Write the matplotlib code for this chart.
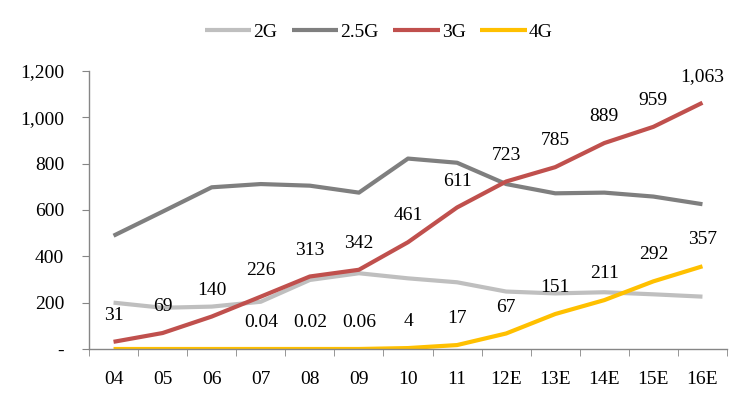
import matplotlib
matplotlib.use("Agg")
import matplotlib.pyplot as plt
import numpy as np

categories = ["04", "05", "06", "07", "08", "09", "10", "11", "12E", "13E", "14E", "15E", "16E"]
s_2g = [200, 178, 183, 204, 298, 327, 305, 288, 248, 240, 245, 236, 226]
s_25g = [489, 593, 698, 712, 705, 675, 822, 804, 712, 672, 675, 658, 625]
s_3g = [31, 69, 140, 226, 313, 342, 461, 611, 723, 785, 889, 959, 1063]
s_4g = [0, 0, 0, 0.04, 0.02, 0.06, 4, 17, 67, 151, 211, 292, 357]
labels_3g = ["31", "69", "140", "226", "313", "342", "461", "611", "723", "785", "889", "959", "1,063"]
labels_4g = ["", "", "", "0.04", "0.02", "0.06", "4", "17", "67", "151", "211", "292", "357"]
yticks = [0, 200, 400, 600, 800, 1000, 1200]
ytick_labels = ["-", "200", "400", "600", "800", "1,000", "1,200"]

plt.rcParams['font.family'] = ['Liberation Serif', 'DejaVu Serif']
FS = 14

fig = plt.figure(figsize=(7.5, 3.99), dpi=100)
ax = fig.add_axes([89/750, 1-349/399, (727-89)/750, (349-71)/399])

x = np.arange(len(categories))
lw = 3.0
ax.plot(x, s_2g, color="#BFBFBF", lw=lw, label="2G", solid_capstyle='butt')
ax.plot(x, s_25g, color="#7F7F7F", lw=lw, label="2.5G", solid_capstyle='butt')
ax.plot(x, s_3g, color="#C0504D", lw=lw, label="3G", solid_capstyle='butt')
ax.plot(x, s_4g, color="#FFC000", lw=lw, label="4G", solid_capstyle='butt')

for xi, v, t in zip(x, s_3g, labels_3g):
    if t:
        ax.annotate(t, (xi, v), xytext=(0, 19), textcoords='offset points',
                    ha='center', va='center', fontsize=FS)
for xi, v, t in zip(x, s_4g, labels_4g):
    if t:
        ax.annotate(t, (xi, v), xytext=(0, 19), textcoords='offset points',
                    ha='center', va='center', fontsize=FS)

ax.set_xlim(-0.5, len(categories) - 0.5)
ax.set_ylim(0, 1200)
ax.set_yticks(yticks)
ax.set_yticklabels(ytick_labels, fontsize=FS)
ax.set_xticks(x)
ax.set_xticklabels(categories, fontsize=FS)
ax.set_xticks(np.arange(-0.5, len(categories), 1), minor=True)
ax.tick_params(axis='x', which='major', length=0, pad=16)
ax.tick_params(axis='x', which='minor', length=5, color='#868686', direction='out')
ax.tick_params(axis='y', length=5, color='#868686', direction='out', pad=13)

for s in ['top', 'right']:
    ax.spines[s].set_visible(False)
for s in ['left', 'bottom']:
    ax.spines[s].set_color('#868686')
    ax.spines[s].set_linewidth(1.0)

fig.legend(loc='upper center', bbox_to_anchor=(0.505, 0.985), ncol=4, frameon=False,
           fontsize=FS, handlelength=2.4, handletextpad=0.1, columnspacing=0.75)

fig.savefig("out.png", dpi=100)
